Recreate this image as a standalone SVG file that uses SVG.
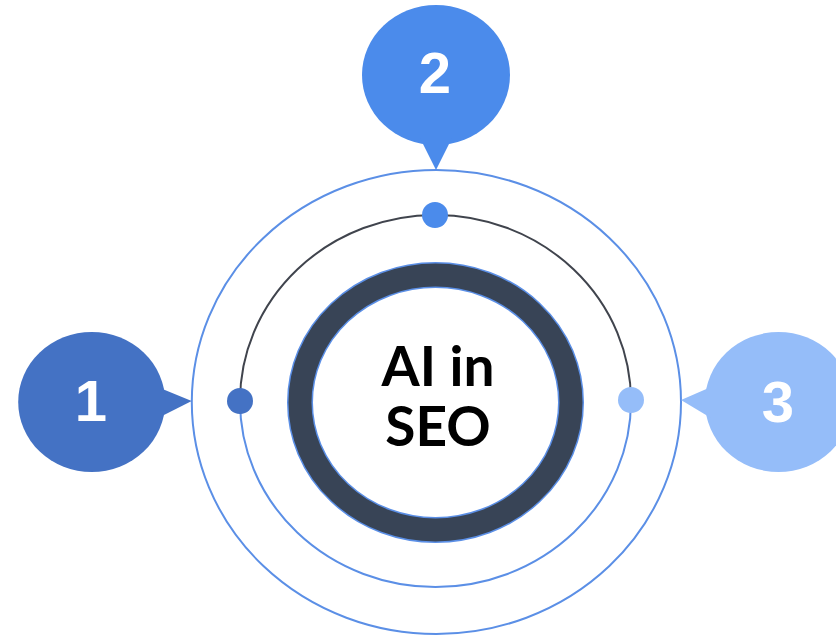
<svg xmlns="http://www.w3.org/2000/svg" width="836" height="637" viewBox="0 0 836 637">
<style>
.num{font-family:"Liberation Sans",Arial,sans-serif;font-weight:700;font-size:58px;fill:#ffffff;text-anchor:middle}
.title{font-family:Lato,"Liberation Sans",sans-serif;font-weight:700;font-size:55px;fill:#000000;text-anchor:middle}
.ring-blue{fill:none;stroke:#5B8FE6;stroke-width:2}
</style>
<rect width="836" height="637" fill="#ffffff"/>
<g id="connectors">
<ellipse id="outer-ring" class="ring-blue" cx="436.4" cy="402" rx="244.6" ry="232"/>
<path id="middle-upper" d="M240 401 A195.5 186 0 0 1 631 401" fill="none" stroke="#40444D" stroke-width="2"/>
<path id="middle-lower" d="M631 401 A195.5 186 0 0 1 240 401" fill="none" stroke="#5B8FE6" stroke-width="2"/>
</g>
<g id="center">
<ellipse cx="435.5" cy="402.5" rx="135.5" ry="127.5" fill="none" stroke="#5B8FE6" stroke-width="26"/>
<ellipse cx="435.5" cy="402.5" rx="135.5" ry="127.5" fill="none" stroke="#384456" stroke-width="23"/>
<text class="title" x="438" y="386">AI in</text>
<text class="title" x="438" y="446">SEO</text>
</g>
<g id="dot-1"><circle cx="240" cy="401" r="13" fill="#4472C4"/></g>
<g id="dot-2"><circle cx="435" cy="215" r="13" fill="#4B8BEB"/></g>
<g id="dot-3"><circle cx="631" cy="400" r="13" fill="#95BDF9"/></g>
<g id="node-1">
<ellipse cx="91.7" cy="402" rx="73.5" ry="70" fill="#4472C4"/>
<polygon points="160,388 160,417 191.7,401" fill="#4472C4"/>
<text class="num" x="91" y="421">1</text>
</g>
<g id="node-2">
<ellipse cx="436" cy="75" rx="74" ry="70" fill="#4B8BEB"/>
<polygon points="420,138 452,138 436,170" fill="#4B8BEB"/>
<text class="num" x="435" y="93">2</text>
</g>
<g id="node-3">
<ellipse cx="778.5" cy="402" rx="73.5" ry="70" fill="#95BDF9"/>
<polygon points="711,387 711,418 681,400" fill="#95BDF9"/>
<text class="num" x="778" y="422">3</text>
</g>
</svg>
